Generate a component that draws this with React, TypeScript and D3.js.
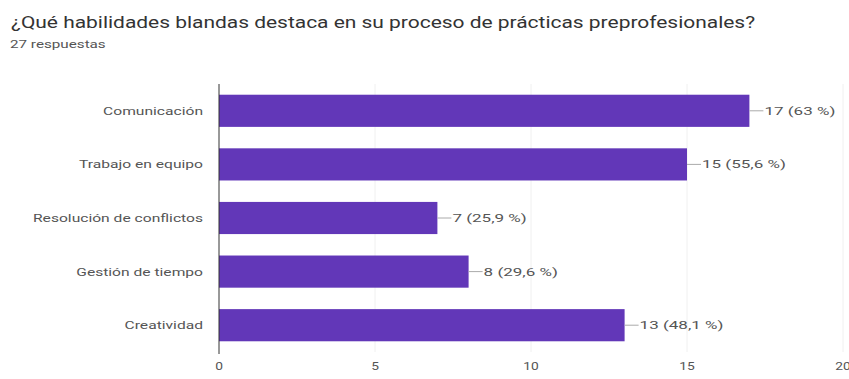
import React from "react";
import * as d3 from "d3";

const categories = ["Comunicación", "Trabajo en equipo", "Resolución de conflictos", "Gestión de tiempo", "Creatividad"];
const values = [17, 15, 7, 8, 13];
const valueLabels = ["17 (63 %)", "15 (55,6 %)", "7 (25,9 %)", "8 (29,6 %)", "13 (48,1 %)"];
const xTicks = [0, 5, 10, 15, 20];

const W = 849;
const H = 379;

function SText(props: { x: number; y: number; sx: number; size: number; anchor?: string; fill?: string; children: React.ReactNode }) {
  const { x, y, sx, size, anchor, fill, children } = props;
  return (
    <text transform={`translate(${x},${y}) scale(${sx},1)`} fontSize={size} fill={fill || "#444"} textAnchor={anchor || "start"}>
      {children}
    </text>
  );
}

export default function App() {
  const x = d3.scaleLinear().domain([0, 20]).range([219, 843]);
  const y = d3.scaleBand<string>().domain(categories).range([84, 352]).paddingInner(0.4).paddingOuter(0.2);
  const font = "Roboto, Arial, sans-serif";
  return (
    <svg width={W} height={H} style={{ position: "absolute", left: 0, top: 0, background: "#fff" }} fontFamily={font}>
      <SText x={11} y={28} sx={1.31} size={16} fill="#333">¿Qué habilidades blandas destaca en su proceso de prácticas preprofesionales?</SText>
      <SText x={10} y={48} sx={1.45} size={10.5} fill="#555">27 respuestas</SText>
      {xTicks.map((t) => (
        <g key={t}>
          {t > 0 && <line x1={x(t)} x2={x(t)} y1={84} y2={352} stroke="#f0f0f0" strokeWidth={1} />}
          <SText x={x(t)} y={370} sx={1.2} size={11.5} anchor="middle" fill="#555">{t}</SText>
        </g>
      ))}
      {categories.map((c, i) => {
        const yy = y(c)!;
        const bw = y.bandwidth();
        const xe = x(values[i]);
        return (
          <g key={c}>
            <rect x={x(0)} y={yy} width={xe - x(0)} height={bw} fill="#6237b8" />
            <SText x={203} y={yy + bw / 2 + 4} sx={1.42} size={11} anchor="end" fill="#555">{c}</SText>
            <line x1={xe} x2={xe + 14} y1={yy + bw / 2} y2={yy + bw / 2} stroke="#aaa" strokeWidth={1} />
            <SText x={xe + 15} y={yy + bw / 2 + 4} sx={1.55} size={11} fill="#555">{valueLabels[i]}</SText>
          </g>
        );
      })}
      <line x1={x(0)} x2={x(0)} y1={84} y2={354} stroke="#333" strokeWidth={1} />
    </svg>
  );
}
